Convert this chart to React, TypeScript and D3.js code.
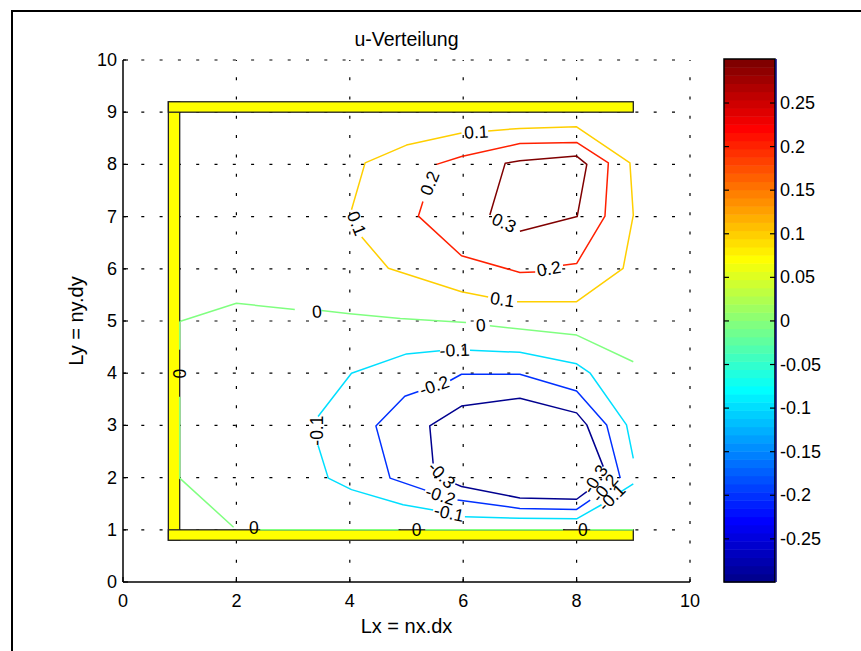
import React from "react";
import * as d3 from "d3";

type Pt = [number, number];

// ---- axis ticks ----
const X_TICKS = [0, 2, 4, 6, 8, 10];
const Y_TICKS = [0, 1, 2, 3, 4, 5, 6, 7, 8, 9, 10];
const CB_TICKS = [-0.25, -0.2, -0.15, -0.1, -0.05, 0, 0.05, 0.1, 0.15, 0.2, 0.25];
const C_MIN = -0.2995;
const C_MAX = 0.3005;

// ---- walls (data coords) ----
const WALLS = [
  { x0: 0.8, x1: 1.0, y0: 0.8, y1: 9.2 },
  { x0: 0.8, x1: 9.0, y0: 9.0, y1: 9.2 },
  { x0: 0.8, x1: 9.0, y0: 0.8, y1: 1.0 },
];

// ---- contour polylines per level (with label gaps) ----
const contourP03: Pt[][] = [
  [[6.47, 7.03], [6.74, 8.02], [7.0, 8.07], [8.0, 8.16], [8.18, 8.0], [8.01, 7.0], [7.0, 6.72]],
];
const contourP02: Pt[][] = [
  [[5.53, 8.0], [5.97, 8.15], [7.0, 8.4], [8.0, 8.42], [8.56, 8.03], [8.5, 7.01], [8.0, 6.1], [7.76, 6.07]],
  [[7.27, 5.94], [7.0, 5.93], [5.97, 6.25], [5.21, 7.01], [5.29, 7.29]],
];
const contourP01: Pt[][] = [
  [[6.44, 8.64], [7.0, 8.69], [8.0, 8.72], [8.94, 8.03], [9.0, 7.03], [8.82, 6.01], [8.0, 5.37], [6.95, 5.37]],
  [[6.44, 5.46], [5.97, 5.56], [4.68, 6.01], [4.21, 6.61]],
  [[4.03, 7.13], [4.27, 8.03], [5.0, 8.37], [5.97, 8.6]],
];
const contour0: Pt[][] = [
  [[1.0, 4.99], [2.0, 5.34], [3.03, 5.22]],
  [[3.5, 5.2], [4.0, 5.14], [4.89, 5.05], [6.05, 4.97]],
  [[6.47, 4.91], [8.0, 4.73], [9.0, 4.22]],
  [[1.0, 4.99], [1.0, 4.45]],
  [[1.0, 3.55], [1.0, 1.99], [1.95, 1.05]],
  [[2.42, 1.0], [4.86, 1.0]],
  [[5.33, 1.0], [7.76, 1.0]],
  [[8.24, 1.0], [9.0, 1.0]],
];
const contourM01: Pt[][] = [
  [[9.0, 1.88], [8.77, 1.72]],
  [[8.44, 1.48], [8.0, 1.21], [7.0, 1.22], [6.03, 1.25]],
  [[5.47, 1.38], [4.94, 1.48], [4.03, 1.77], [3.62, 1.99], [3.44, 2.62]],
  [[3.44, 3.17], [4.03, 4.0], [5.0, 4.37], [5.59, 4.43]],
  [[6.12, 4.44], [7.0, 4.4], [8.0, 4.18], [8.24, 4.0], [8.88, 3.01], [9.0, 2.37]],
];
const contourM02: Pt[][] = [
  [[5.77, 3.86], [5.97, 3.98], [7.0, 3.98], [8.0, 3.66], [8.53, 3.01], [8.77, 1.99]],
  [[8.24, 1.57], [8.0, 1.39], [7.0, 1.41], [5.97, 1.56], [5.9, 1.57]],
  [[5.33, 1.76], [4.71, 1.99], [4.46, 2.99], [4.97, 3.56], [5.21, 3.65]],
];
const contourM03: Pt[][] = [
  [[5.47, 2.27], [5.41, 2.99], [5.97, 3.37], [7.0, 3.52], [8.0, 3.24], [8.18, 3.01], [8.47, 2.21]],
  [[8.18, 1.73], [8.0, 1.585], [7.0, 1.61], [5.97, 1.83], [5.86, 1.88]],
];

const LEVELS = [0.3, 0.2, 0.1, 0, -0.1, -0.2, -0.3];
const CONTOURS = [contourP03, contourP02, contourP01, contour0, contourM01, contourM02, contourM03];

// ---- contour labels: text, x, y, angle ----
const LABEL_TEXT = [
  "0.1", "0.1", "0.1",
  "0.2", "0.2",
  "0.3",
  "0", "0", "0", "0", "0", "0",
  "-0.1", "-0.1", "-0.1", "-0.1",
  "-0.2", "-0.2", "-0.2",
  "-0.3", "-0.3",
];
const LABEL_X = [6.23, 6.69, 4.12, 7.51, 5.41, 6.72, 3.42, 6.31, 1.0, 2.31, 5.18, 8.11, 8.62, 5.75, 3.42, 5.85, 5.49, 5.6, 8.5, 5.62, 8.33];
const LABEL_Y = [8.62, 5.41, 6.87, 6.0, 7.64, 6.88, 5.18, 4.92, 3.99, 1.03, 1.0, 1.0, 1.62, 1.32, 2.9, 4.44, 3.76, 1.66, 1.8, 2.05, 1.97];
const LABEL_ANGLE = [-3, 8, 68, -10, -68, 25, -4, -3, -90, 0, 0, 0, -45, 12, -90, -2, -19, 18, -50, 45, -56];

const FONT = "'Liberation Sans', Arial, Helvetica, sans-serif";

function jetU(i: number) {
  if (i < 1 || i > 47) return 0;
  if (i <= 16) return i / 16;
  if (i <= 31) return 1;
  return (48 - i) / 16;
}
function jetRow(k1: number) {
  const r = jetU(k1 - 24), g = jetU(k1 - 8), b = jetU(k1 + 8);
  return d3.rgb(Math.round(r * 255), Math.round(g * 255), Math.round(b * 255)).formatHex();
}
function levelColor(v: number) {
  let idx = Math.floor(((v - C_MIN) / (C_MAX - C_MIN)) * 64);
  idx = Math.max(0, Math.min(63, idx));
  return jetRow(idx + 1);
}

export default function App() {
  const W = 861, H = 651;
  const x = d3.scaleLinear().domain([0, 10]).range([123, 690]);
  const y = d3.scaleLinear().domain([0, 10]).range([582, 60]);
  const cb = d3.scaleLinear().domain([C_MIN, C_MAX]).range([582, 59]);
  const cbX0 = 724, cbX1 = 775;
  const line = d3.line<Pt>().x((d) => x(d[0])).y((d) => y(d[1]));
  const bands = d3.range(64);
  const bandH = (C_MAX - C_MIN) / 64;

  return (
    <svg width={W} height={H} style={{ position: "absolute", left: 0, top: 0, background: "#fff" }} fontFamily={FONT}>
      <rect x={0} y={0} width={W} height={H} fill="#fff" />
      {/* outer frame */}
      <path d={`M12,${H + 5} L12,11 L${W + 5},11`} fill="none" stroke="#000" strokeWidth={2} />

      {/* grid */}
      {Y_TICKS.filter((t) => t > 0).map((t) => (
        <line key={"gy" + t} x1={x(0)} x2={x(10)} y1={y(t)} y2={y(t)} stroke="#000" strokeWidth={1.2} strokeDasharray="3 15.3" />
      ))}
      {X_TICKS.filter((t) => t > 0).map((t) => (
        <line key={"gx" + t} x1={x(t)} x2={x(t)} y1={y(0)} y2={y(10)} stroke="#000" strokeWidth={1.2} strokeDasharray="3 16.3" />
      ))}

      {/* walls */}
      {WALLS.map((w, i) => (
        <rect key={"w" + i} x={x(w.x0)} y={y(w.y1)} width={x(w.x1) - x(w.x0)} height={y(w.y0) - y(w.y1)} fill="#ffff00" stroke="#222" strokeWidth={1.3} />
      ))}

      {/* contours */}
      {CONTOURS.map((segs, li) =>
        segs.map((s, si) => (
          <path key={"c" + li + "_" + si} d={line(s) || ""} fill="none" stroke={levelColor(LEVELS[li])} strokeWidth={1.5} strokeLinejoin="round" />
        ))
      )}

      {/* contour labels */}
      {LABEL_TEXT.map((t, i) => (
        <text key={"l" + i} x={0} y={0} transform={`translate(${x(LABEL_X[i])},${y(LABEL_Y[i])}) rotate(${LABEL_ANGLE[i]})`} textAnchor="middle" dominantBaseline="central" fontSize={17.5} fill="#000">
          {t}
        </text>
      ))}

      {/* axes */}
      <line x1={x(0)} x2={x(10)} y1={y(0)} y2={y(0)} stroke="#000" strokeWidth={1.5} />
      <line x1={x(0)} x2={x(0)} y1={y(0)} y2={y(10)} stroke="#000" strokeWidth={1.5} />
      {X_TICKS.map((t) => (
        <g key={"xt" + t}>
          <line x1={x(t)} x2={x(t)} y1={y(0)} y2={y(0) - 5} stroke="#000" strokeWidth={1.2} />
          <text x={x(t)} y={y(0) + 25} textAnchor="middle" fontSize={18}>{t}</text>
        </g>
      ))}
      {Y_TICKS.map((t) => (
        <g key={"yt" + t}>
          <line x1={x(0)} x2={x(0) + 5} y1={y(t)} y2={y(t)} stroke="#000" strokeWidth={1.2} />
          <text x={x(0) - 6} y={y(t)} textAnchor="end" dominantBaseline="central" fontSize={18}>{t}</text>
        </g>
      ))}

      {/* title & labels */}
      <text x={(x(0) + x(10)) / 2} y={46} textAnchor="middle" fontSize={19.5}>u-Verteilung</text>
      <text x={(x(0) + x(10)) / 2} y={633} textAnchor="middle" fontSize={20}>Lx = nx.dx</text>
      <text transform={`translate(83,${(y(0) + y(10)) / 2}) rotate(-90)`} textAnchor="middle" fontSize={20}>Ly = ny.dy</text>

      {/* colorbar */}
      {bands.map((i) => {
        const v0 = C_MIN + i * bandH, v1 = v0 + bandH;
        return <rect key={"cb" + i} x={cbX0} y={cb(v1)} width={cbX1 - cbX0} height={cb(v0) - cb(v1) + 0.5} fill={jetRow(i + 1)} />;
      })}
      <rect x={cbX0} y={cb(C_MAX)} width={cbX1 - cbX0} height={cb(C_MIN) - cb(C_MAX)} fill="none" stroke="#000" strokeWidth={1.5} />
      <line x1={cbX1 + 1} x2={cbX1 + 1} y1={cb(C_MAX)} y2={cb(C_MIN)} stroke="#000080" strokeWidth={1.5} />
      {CB_TICKS.map((t) => (
        <g key={"ct" + t}>
          <line x1={cbX0} x2={cbX0 + 5} y1={cb(t)} y2={cb(t)} stroke="#000" strokeWidth={1.2} />
          <line x1={cbX1 - 5} x2={cbX1} y1={cb(t)} y2={cb(t)} stroke="#000" strokeWidth={1.2} />
          <text x={cbX1 + 5} y={cb(t)} dominantBaseline="central" fontSize={18}>{String(+t.toFixed(2))}</text>
        </g>
      ))}
    </svg>
  );
}
